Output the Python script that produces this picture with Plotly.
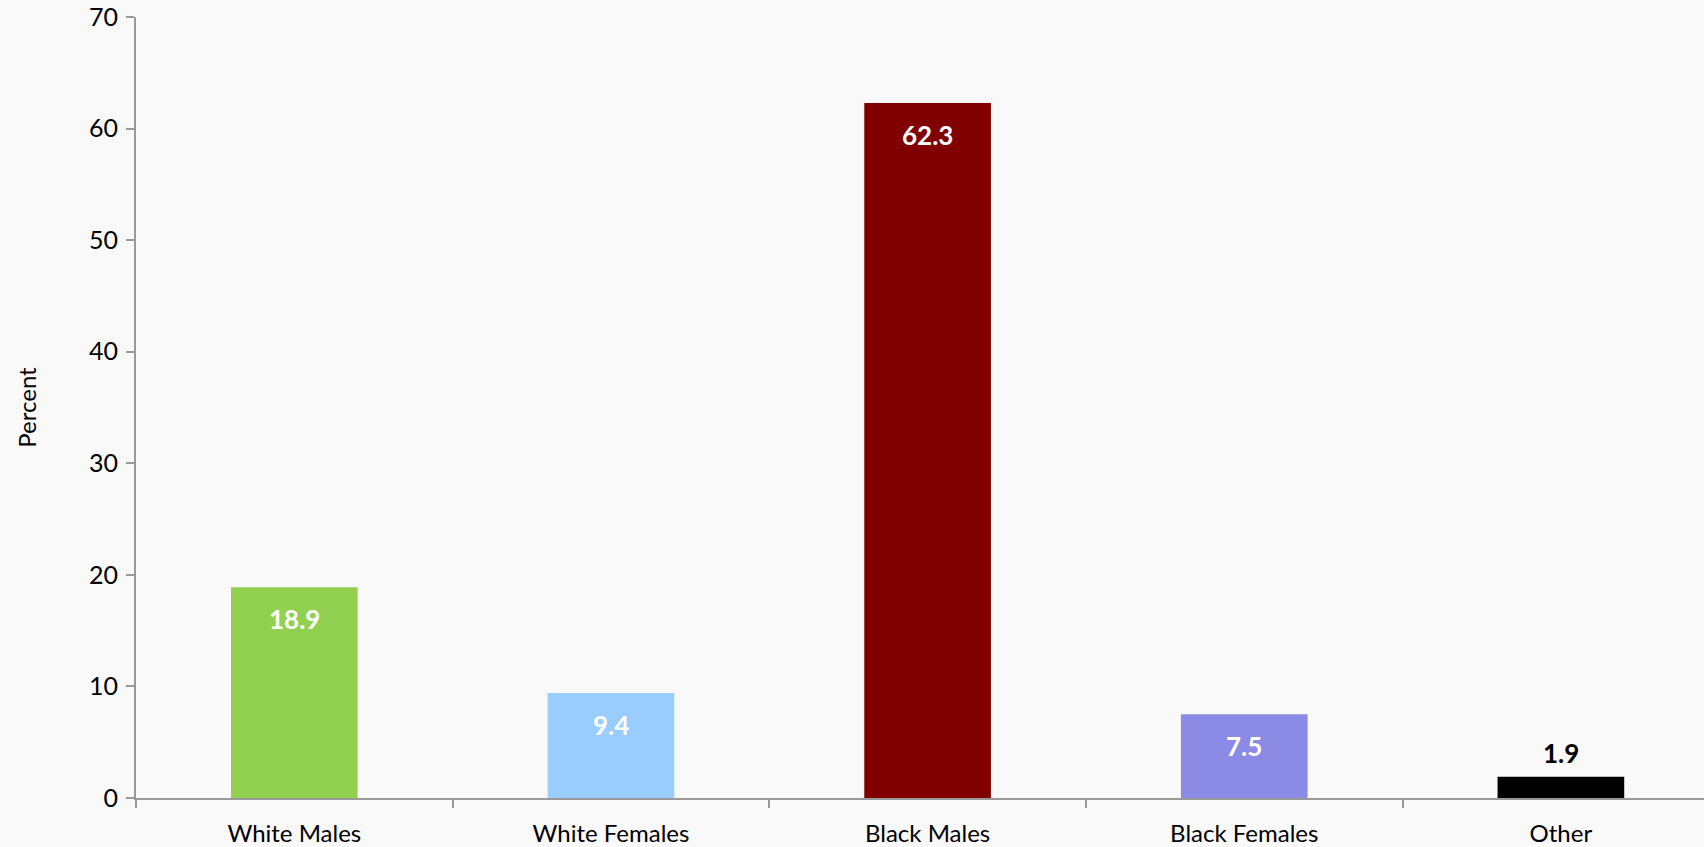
import plotly.graph_objects as go

categories = ["White Males", "White Females", "Black Males", "Black Females", "Other"]
values = [18.9, 9.4, 62.3, 7.5, 1.9]
colors = ["#92d050", "#99ccff", "#800000", "#8b8be6", "#000000"]
label_colors = ["white", "white", "white", "white", "black"]
y_ticks = [0, 10, 20, 30, 40, 50, 60, 70]

FONT = "Lato, Open Sans, sans-serif"

fig = go.Figure(go.Bar(
    x=categories, y=values, marker=dict(color=colors, line=dict(width=0)),
    width=0.4, showlegend=False, hoverinfo="x+y",
))

annotations = []
for c, v, lc in zip(categories, values, label_colors):
    if lc == "white":
        annotations.append(dict(x=c, y=v, xref="x", yref="y", text=f"<b>{v}</b>",
                                showarrow=False, yanchor="top", yshift=-14,
                                font=dict(family=FONT, size=26, color=lc)))
    else:
        annotations.append(dict(x=c, y=v, xref="x", yref="y", text=f"<b>{v}</b>",
                                showarrow=False, yanchor="bottom", yshift=6,
                                font=dict(family=FONT, size=26, color=lc)))

fig.update_layout(
    width=1704, height=847,
    paper_bgcolor="#f9f9f9", plot_bgcolor="#f9f9f9",
    margin=dict(l=136, r=0, t=17, b=49),
    font=dict(family=FONT, size=24, color="black"),
    bargap=0.6,
    annotations=annotations,
    xaxis=dict(
        type="category", range=[-0.5, 4.452], tickson="boundaries",
        ticks="outside", ticklen=8, tickcolor="#999999", tickwidth=2,
        showline=True, linecolor="#999999", linewidth=2,
        showgrid=False, zeroline=False, tickfont=dict(size=24),
        automargin=False, ticklabelstandoff=13,
    ),
    yaxis=dict(
        range=[0, 70], tickvals=y_ticks, ticks="outside", ticklen=8,
        tickcolor="#999999", tickwidth=2, showline=True, linecolor="#999999",
        linewidth=2, showgrid=False, zeroline=False, tickfont=dict(size=25),
        title=dict(text="Percent", font=dict(size=24), standoff=46),
        automargin=False, ticklabelstandoff=3,
    ),
)

fig.write_html(
    "out.html",
    config={"displayModeBar": False},
    post_script="document.body.style.margin='0';document.body.style.overflow='hidden';document.body.style.background='#f9f9f9';",
)
